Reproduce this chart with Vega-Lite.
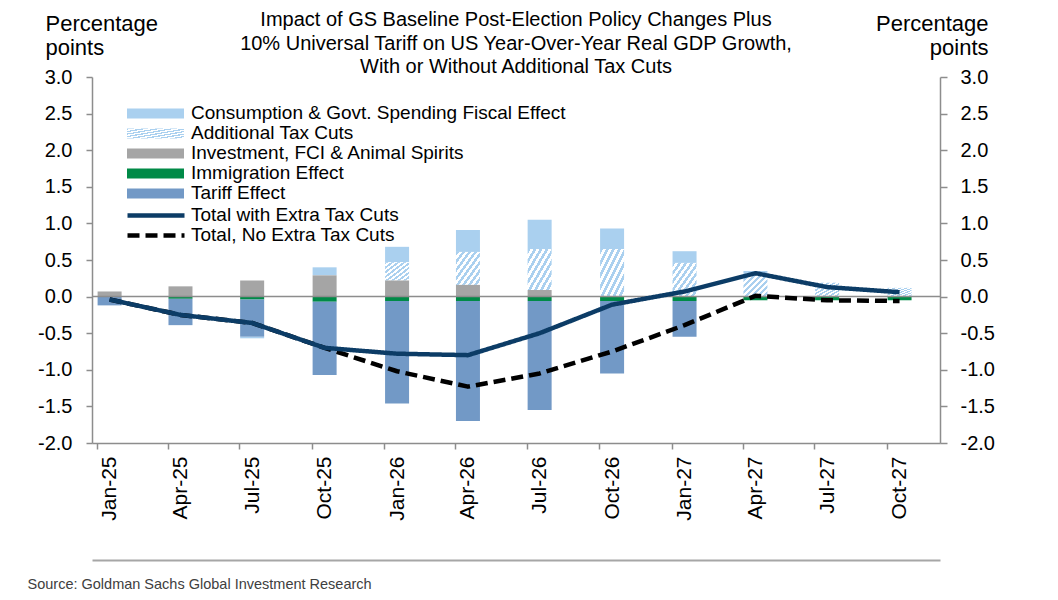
{
  "$schema": "https://vega.github.io/schema/vega-lite/v6.json",
  "width": 848,
  "height": 366,
  "autosize": {"type": "none"},
  "padding": {"left": 92, "top": 77, "right": 118, "bottom": 157},
  "background": "white",
  "config": {
    "view": {"stroke": null},
    "font": "Liberation Sans",
    "axis": {"labelFont": "Liberation Sans", "titleFont": "Liberation Sans", "grid": false},
    "legend": {"labelFont": "Liberation Sans"}
  },
  "title": {
    "text": ["Impact of GS Baseline Post-Election Policy Changes Plus", "10% Universal Tariff on US Year-Over-Year Real GDP Growth,", "With or Without Additional Tax Cuts"],
    "fontSize": 20, "fontWeight": "normal", "font": "Liberation Sans", "color": "#000000",
    "lineHeight": 23.5, "anchor": "middle", "frame": "group", "offset": 0, "dy": 65
  },
  "datasets": {
    "bars": [
      {"date": "2025-01-01", "series": "Investment, FCI & Animal Spirits", "value": 0.07},
      {"date": "2025-01-01", "series": "Tariff Effect", "value": -0.12},
      {"date": "2025-04-01", "series": "Investment, FCI & Animal Spirits", "value": 0.14},
      {"date": "2025-04-01", "series": "Immigration Effect", "value": -0.03},
      {"date": "2025-04-01", "series": "Tariff Effect", "value": -0.36},
      {"date": "2025-07-01", "series": "Investment, FCI & Animal Spirits", "value": 0.22},
      {"date": "2025-07-01", "series": "Immigration Effect", "value": -0.04},
      {"date": "2025-07-01", "series": "Tariff Effect", "value": -0.51},
      {"date": "2025-07-01", "series": "Consumption & Govt. Spending Fiscal Effect", "value": -0.02},
      {"date": "2025-10-01", "series": "Consumption & Govt. Spending Fiscal Effect", "value": 0.11},
      {"date": "2025-10-01", "series": "Investment, FCI & Animal Spirits", "value": 0.29},
      {"date": "2025-10-01", "series": "Immigration Effect", "value": -0.07},
      {"date": "2025-10-01", "series": "Tariff Effect", "value": -1.0},
      {"date": "2026-01-01", "series": "Consumption & Govt. Spending Fiscal Effect", "value": 0.21},
      {"date": "2026-01-01", "series": "Additional Tax Cuts", "value": 0.25},
      {"date": "2026-01-01", "series": "Investment, FCI & Animal Spirits", "value": 0.22},
      {"date": "2026-01-01", "series": "Immigration Effect", "value": -0.06},
      {"date": "2026-01-01", "series": "Tariff Effect", "value": -1.4},
      {"date": "2026-04-01", "series": "Consumption & Govt. Spending Fiscal Effect", "value": 0.3},
      {"date": "2026-04-01", "series": "Additional Tax Cuts", "value": 0.45},
      {"date": "2026-04-01", "series": "Investment, FCI & Animal Spirits", "value": 0.16},
      {"date": "2026-04-01", "series": "Immigration Effect", "value": -0.06},
      {"date": "2026-04-01", "series": "Tariff Effect", "value": -1.64},
      {"date": "2026-07-01", "series": "Consumption & Govt. Spending Fiscal Effect", "value": 0.4},
      {"date": "2026-07-01", "series": "Additional Tax Cuts", "value": 0.56},
      {"date": "2026-07-01", "series": "Investment, FCI & Animal Spirits", "value": 0.09},
      {"date": "2026-07-01", "series": "Immigration Effect", "value": -0.06},
      {"date": "2026-07-01", "series": "Tariff Effect", "value": -1.49},
      {"date": "2026-10-01", "series": "Consumption & Govt. Spending Fiscal Effect", "value": 0.28},
      {"date": "2026-10-01", "series": "Additional Tax Cuts", "value": 0.65},
      {"date": "2026-10-01", "series": "Immigration Effect", "value": -0.06},
      {"date": "2026-10-01", "series": "Tariff Effect", "value": -0.99},
      {"date": "2027-01-01", "series": "Consumption & Govt. Spending Fiscal Effect", "value": 0.16},
      {"date": "2027-01-01", "series": "Additional Tax Cuts", "value": 0.46},
      {"date": "2027-01-01", "series": "Immigration Effect", "value": -0.06},
      {"date": "2027-01-01", "series": "Tariff Effect", "value": -0.49},
      {"date": "2027-04-01", "series": "Consumption & Govt. Spending Fiscal Effect", "value": 0.03},
      {"date": "2027-04-01", "series": "Additional Tax Cuts", "value": 0.32},
      {"date": "2027-04-01", "series": "Immigration Effect", "value": -0.05},
      {"date": "2027-07-01", "series": "Additional Tax Cuts", "value": 0.19},
      {"date": "2027-07-01", "series": "Immigration Effect", "value": -0.05},
      {"date": "2027-10-01", "series": "Additional Tax Cuts", "value": 0.12},
      {"date": "2027-10-01", "series": "Immigration Effect", "value": -0.05}
    ],
    "lines": [
      {"date": "2025-01-01", "series": "Total, No Extra Tax Cuts", "value": -0.04},
      {"date": "2025-04-01", "series": "Total, No Extra Tax Cuts", "value": -0.25},
      {"date": "2025-07-01", "series": "Total, No Extra Tax Cuts", "value": -0.36},
      {"date": "2025-10-01", "series": "Total, No Extra Tax Cuts", "value": -0.7},
      {"date": "2026-01-01", "series": "Total, No Extra Tax Cuts", "value": -1.02},
      {"date": "2026-04-01", "series": "Total, No Extra Tax Cuts", "value": -1.23},
      {"date": "2026-07-01", "series": "Total, No Extra Tax Cuts", "value": -1.05},
      {"date": "2026-10-01", "series": "Total, No Extra Tax Cuts", "value": -0.75},
      {"date": "2027-01-01", "series": "Total, No Extra Tax Cuts", "value": -0.39},
      {"date": "2027-04-01", "series": "Total, No Extra Tax Cuts", "value": 0.01},
      {"date": "2027-07-01", "series": "Total, No Extra Tax Cuts", "value": -0.05},
      {"date": "2027-10-01", "series": "Total, No Extra Tax Cuts", "value": -0.06},
      {"date": "2025-01-01", "series": "Total with Extra Tax Cuts", "value": -0.04},
      {"date": "2025-04-01", "series": "Total with Extra Tax Cuts", "value": -0.25},
      {"date": "2025-07-01", "series": "Total with Extra Tax Cuts", "value": -0.36},
      {"date": "2025-10-01", "series": "Total with Extra Tax Cuts", "value": -0.7},
      {"date": "2026-01-01", "series": "Total with Extra Tax Cuts", "value": -0.78},
      {"date": "2026-04-01", "series": "Total with Extra Tax Cuts", "value": -0.8},
      {"date": "2026-07-01", "series": "Total with Extra Tax Cuts", "value": -0.5},
      {"date": "2026-10-01", "series": "Total with Extra Tax Cuts", "value": -0.11},
      {"date": "2027-01-01", "series": "Total with Extra Tax Cuts", "value": 0.07},
      {"date": "2027-04-01", "series": "Total with Extra Tax Cuts", "value": 0.32},
      {"date": "2027-07-01", "series": "Total with Extra Tax Cuts", "value": 0.13},
      {"date": "2027-10-01", "series": "Total with Extra Tax Cuts", "value": 0.06}
    ]
  },
  "layer": [
    {
      "data": {"name": "bars"},
      "transform": [
        {"calculate": "indexof(['Investment, FCI & Animal Spirits', 'Additional Tax Cuts', 'Immigration Effect', 'Tariff Effect', 'Consumption & Govt. Spending Fiscal Effect'], datum.series)", "as": "stackOrder"}
      ],
      "mark": {"type": "bar", "width": 24, "stroke": null},
      "encoding": {
        "x": {
          "field": "date", "type": "temporal",
          "scale": {"type": "utc", "domain": [{"year": 2024, "month": 12, "date": 16, "utc": true}, {"year": 2027, "month": 11, "date": 15, "utc": true}]},
          "axis": {
            "orient": "bottom",
            "values": [
              {"year": 2025, "month": 1, "date": 1, "utc": true},
              {"year": 2025, "month": 4, "date": 1, "utc": true},
              {"year": 2025, "month": 7, "date": 1, "utc": true},
              {"year": 2025, "month": 10, "date": 1, "utc": true},
              {"year": 2026, "month": 1, "date": 1, "utc": true},
              {"year": 2026, "month": 4, "date": 1, "utc": true},
              {"year": 2026, "month": 7, "date": 1, "utc": true},
              {"year": 2026, "month": 10, "date": 1, "utc": true},
              {"year": 2027, "month": 1, "date": 1, "utc": true},
              {"year": 2027, "month": 4, "date": 1, "utc": true},
              {"year": 2027, "month": 7, "date": 1, "utc": true},
              {"year": 2027, "month": 10, "date": 1, "utc": true}
            ],
            "labelExpr": "utcFormat(datum.value, '%b-%y')",
            "labelAngle": -90, "labelAlign": "right", "labelBaseline": "middle",
            "labelFontSize": 21, "labelColor": "#000000", "labelPadding": 7,
            "labelFlush": false, "labelOverlap": false, "labelBound": false,
            "tickSize": 6, "tickColor": "#8d8d8d", "tickWidth": 1.5,
            "domainColor": "#8d8d8d", "domainWidth": 1.5,
            "tickOffset": -12.7, "labelOffset": 12.7,
            "title": null
          }
        },
        "y": {
          "field": "value", "type": "quantitative", "stack": "zero",
          "scale": {"domain": [-2, 3], "nice": false, "zero": false},
          "axis": {
            "orient": "left",
            "values": [-2, -1.5, -1, -0.5, 0, 0.5, 1, 1.5, 2, 2.5, 3],
            "labelExpr": "datum.value < 0 ? '-' + format(-datum.value, '.1f') : format(datum.value, '.1f')",
            "labelFontSize": 20, "labelColor": "#000000", "labelPadding": 14,
            "labelFlush": false, "labelOverlap": false, "labelBound": false,
            "tickSize": 6, "tickColor": "#8d8d8d", "tickWidth": 1.5,
            "domainColor": "#8d8d8d", "domainWidth": 1.5,
            "title": ["Percentage", "points"], "titleAngle": 0, "titleAlign": "left", "titleBaseline": "alphabetic",
            "titleX": -47, "titleY": -47, "titleFontSize": 22, "titleFontWeight": "normal", "titleColor": "#000000", "titleLineHeight": 24
          }
        },
        "color": {
          "field": "series", "type": "nominal",
          "scale": {
            "domain": ["Consumption & Govt. Spending Fiscal Effect", "Additional Tax Cuts", "Investment, FCI & Animal Spirits", "Immigration Effect", "Tariff Effect"],
            "range": [
              "#aad0ef",
              {"expr": "{gradient: 'linear', x1: 0, y1: 0, x2: 1, y2: 1, stops: [{offset: 0, color: '#aad0ef'}, {offset: 0.0625, color: '#aad0ef'}, {offset: 0.0625, color: '#ffffff'}, {offset: 0.125, color: '#ffffff'}, {offset: 0.125, color: '#aad0ef'}, {offset: 0.1875, color: '#aad0ef'}, {offset: 0.1875, color: '#ffffff'}, {offset: 0.25, color: '#ffffff'}, {offset: 0.25, color: '#aad0ef'}, {offset: 0.3125, color: '#aad0ef'}, {offset: 0.3125, color: '#ffffff'}, {offset: 0.375, color: '#ffffff'}, {offset: 0.375, color: '#aad0ef'}, {offset: 0.4375, color: '#aad0ef'}, {offset: 0.4375, color: '#ffffff'}, {offset: 0.5, color: '#ffffff'}, {offset: 0.5, color: '#aad0ef'}, {offset: 0.5625, color: '#aad0ef'}, {offset: 0.5625, color: '#ffffff'}, {offset: 0.625, color: '#ffffff'}, {offset: 0.625, color: '#aad0ef'}, {offset: 0.6875, color: '#aad0ef'}, {offset: 0.6875, color: '#ffffff'}, {offset: 0.75, color: '#ffffff'}, {offset: 0.75, color: '#aad0ef'}, {offset: 0.8125, color: '#aad0ef'}, {offset: 0.8125, color: '#ffffff'}, {offset: 0.875, color: '#ffffff'}, {offset: 0.875, color: '#aad0ef'}, {offset: 0.9375, color: '#aad0ef'}, {offset: 0.9375, color: '#ffffff'}, {offset: 1, color: '#ffffff'}]}"},
              "#a5a5a5",
              "#008a47",
              "#7299c6"
            ]
          },
          "legend": {
            "orient": "none", "legendX": 35, "legendY": 27, "title": null, "padding": 0,
            "symbolType": "M-1,-0.175L1,-0.175L1,0.175L-1,0.175Z",
            "symbolSize": 3249, "symbolStrokeWidth": 0, "symbolOpacity": 1,
            "clipHeight": 18.95, "rowPadding": 0, "labelOffset": 7,
            "labelFontSize": 19, "labelColor": "#000000", "labelLimit": 700
          }
        },
        "order": {"field": "stackOrder", "type": "quantitative"}
      }
    },
    {
      "data": {"values": [{}]},
      "mark": {"type": "rule", "color": "#8d8d8d", "strokeWidth": 1.5},
      "encoding": {
        "y": {"datum": 0, "type": "quantitative", "axis": null}
      }
    },
    {
      "data": {"name": "lines"},
      "mark": {"type": "line", "strokeWidth": 4.5, "strokeCap": "butt", "strokeJoin": "round"},
      "encoding": {
        "x": {
          "field": "date", "type": "temporal",
          "scale": {"type": "utc", "domain": [{"year": 2024, "month": 12, "date": 16, "utc": true}, {"year": 2027, "month": 11, "date": 15, "utc": true}]},
          "axis": {
            "orient": "bottom", "offset": 117,
            "labels": false, "ticks": false, "domain": true,
            "domainColor": "#a6a6a6", "domainWidth": 2,
            "title": "Source: Goldman Sachs Global Investment Research",
            "titleX": -65, "titleY": 28, "titleAlign": "left", "titleAnchor": "start", "titleBaseline": "alphabetic",
            "titleFontSize": 14.5, "titleFontWeight": "normal", "titleColor": "#404040"
          }
        },
        "y": {
          "field": "value", "type": "quantitative",
          "axis": {
            "orient": "right",
            "values": [-2, -1.5, -1, -0.5, 0, 0.5, 1, 1.5, 2, 2.5, 3],
            "labelExpr": "datum.value < 0 ? '-' + format(-datum.value, '.1f') : format(datum.value, '.1f')",
            "labelFontSize": 20, "labelColor": "#000000", "labelPadding": 13,
            "labelFlush": false, "labelOverlap": false, "labelBound": false,
            "tickSize": 7, "tickColor": "#8d8d8d", "tickWidth": 1.5,
            "domainColor": "#8d8d8d", "domainWidth": 1.5,
            "title": ["Percentage", "points"], "titleAngle": 0, "titleAlign": "right", "titleBaseline": "alphabetic",
            "titleX": 48, "titleY": -47, "titleFontSize": 22, "titleFontWeight": "normal", "titleColor": "#000000", "titleLineHeight": 24
          }
        },
        "stroke": {
          "field": "series", "type": "nominal",
          "scale": {"domain": ["Total with Extra Tax Cuts", "Total, No Extra Tax Cuts"], "range": ["#0c3c66", "#000000"]},
          "legend": {
            "orient": "none", "legendX": 33, "legendY": 129, "title": null, "padding": 0,
            "symbolType": "stroke", "symbolSize": 3249, "symbolStrokeWidth": 4.5,
            "clipHeight": 18.9, "rowPadding": 0, "labelOffset": 4,
            "labelFontSize": 19, "labelColor": "#000000", "labelLimit": 700
          }
        },
        "strokeDash": {
          "field": "series", "type": "nominal",
          "scale": {"domain": ["Total with Extra Tax Cuts", "Total, No Extra Tax Cuts"], "range": [[1, 0], [12, 6]]},
          "legend": {
            "orient": "none", "legendX": 33, "legendY": 129, "title": null, "padding": 0,
            "symbolType": "stroke", "symbolSize": 3249, "symbolStrokeWidth": 4.5,
            "clipHeight": 18.9, "rowPadding": 0, "labelOffset": 4,
            "labelFontSize": 19, "labelColor": "#000000", "labelLimit": 700
          }
        }
      }
    }
  ],
  "resolve": {"axis": {"x": "independent", "y": "independent"}}
}
